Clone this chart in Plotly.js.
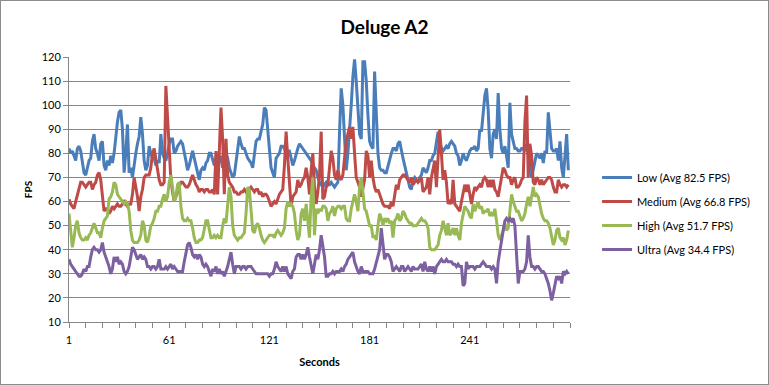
<!DOCTYPE html>
<html>
<head>
<meta charset="utf-8">
<script src="https://cdn.plot.ly/plotly-3.0.1.min.js"></script>
<style>
html,body{margin:0;padding:0;background:#fff;}
#wrap{position:relative;width:769px;height:385px;}
#chart{width:769px;height:385px;}
#frame{position:absolute;left:0;top:0;width:769px;height:385px;box-sizing:border-box;border:1px solid #8c8c8c;pointer-events:none;}
</style>
</head>
<body>
<div id="wrap"><div id="chart"></div><div id="frame"></div></div>
<script>
const seriesNames = ['Low (Avg 82.5 FPS)','Medium (Avg 66.8 FPS)','High (Avg 51.7 FPS)','Ultra (Avg 34.4 FPS)'];
const xTickLabels = ['1','61','121','181','241'];

const low = [
82,80,81,79,77,82,83,81,77,72, 71,74,77,78,85,88,82,80,77,84,
85,75,73,77,75,79,76,80,88,93, 97,98,90,72,80,92,72,74,70,76,
80,84,87,95,88,77,73,75,83,80, 78,78,75,77,76,88,80,78,77,80,
84,86,86,80,81,83,84,85,84,81, 77,73,75,78,81,78,75,72,69,73,
74,73,76,77,80,80,77,75,78,80, 76,79,74,77,80,78,74,72,70,71,
77,82,87,84,82,82,80,78,77,76, 74,79,85,86,86,89,92,99,98,90,
80,74,72,70,78,79,80,83,83,82, 80,81,81,78,75,77,80,82,84,83,
82,81,80,79,78,77,75,74,73,70, 68,67,66,67,68,67,67,68,67,66,
67,68,89,107,100,86,73,80,89,100, 112,119,110,96,88,86,118,118,110,96,
85,83,82,114,100,80,74,73,73,72, 72,75,77,80,82,82,81,84,85,81,
78,75,72,70,66,65,69,70,69,68, 70,71,74,73,72,74,77,77,79,80,
85,89,85,82,81,82,83,82,84,85, 84,83,80,79,75,77,80,78,77,79,
81,82,82,83,81,82,90,89,98,104, 107,98,82,78,88,90,86,105,90,82,
80,83,79,74,101,88,85,82,82,81, 81,82,82,81,84,80,75,70,73,77,
80,79,78,80,76,81,80,97,90,82, 81,81,82,77,85,74,70,80,88,73
];

const medium = [
61,59,58,57,60,63,66,68,68,67, 66,67,68,68,65,67,68,71,72,69,
61,56,57,57,55,56,58,57,58,59, 58,58,59,60,59,58,59,59,63,70,
66,62,56,62,65,70,71,71,71,74, 80,82,78,74,69,67,67,68,108,95,
80,69,64,60,62,64,66,68,68,67, 66,66,67,69,71,69,67,66,64,65,
65,64,65,65,64,64,65,63,81,63, 80,99,86,63,86,71,68,67,66,64,
64,63,63,64,64,65,64,63,65,66, 65,64,65,65,63,64,62,63,63,62,
60,58,59,60,59,61,63,64,65,75, 89,78,66,58,62,63,64,69,66,67,
69,70,74,70,63,73,80,66,59,64, 71,89,61,62,66,67,74,81,78,71,
69,73,70,69,71,78,85,88,91,86, 91,80,70,68,66,62,66,69,81,79,
70,77,70,66,64,65,63,61,59,58, 58,58,57,60,58,63,67,65,69,70,
71,71,70,69,68,70,67,68,69,68, 69,70,64,65,66,70,63,70,73,77,
66,80,90,80,69,73,68,59,60,59, 69,59,58,57,56,60,63,67,64,67,
63,59,63,66,65,66,67,66,69,70, 69,66,69,66,69,65,64,62,67,70,
74,73,71,70,70,67,69,70,66,66, 67,69,70,93,104,70,84,79,68,67,
70,69,67,69,67,68,69,70,70,69, 66,64,64,69,67,66,67,67,66,67
];

const high = [
55,46,41,45,50,52,47,45,44,44, 45,44,46,47,49,51,49,47,47,45,
49,52,53,54,61,62,64,68,67,63, 62,61,60,59,60,59,56,48,44,43,
43,43,44,46,52,50,44,43,46,50, 51,53,56,56,58,58,61,63,60,62,
68,71,66,60,62,67,68,58,53,52, 52,53,52,52,49,45,43,43,44,44,
45,48,52,52,48,45,45,46,45,46, 45,45,50,53,51,58,66,62,50,46,
45,44,45,45,46,47,55,66,65,57, 48,47,50,51,49,46,44,43,44,45,
46,46,46,45,47,48,47,46,47,49, 57,60,58,59,58,55,48,44,46,55,
57,52,59,53,45,62,70,46,57,55, 57,56,58,58,57,52,55,56,58,54,
57,58,58,57,58,58,53,52,52,57, 60,63,60,56,66,70,64,57,56,53,
50,50,45,46,44,50,55,53,50,53, 52,53,51,52,45,52,53,55,52,53,
56,55,53,52,51,51,50,50,50,51, 52,53,52,52,51,49,41,40,40,40,
41,42,46,48,52,49,46,51,46,47, 49,46,49,46,44,51,55,58,57,56,
54,53,59,56,58,60,57,58,55,56, 56,57,54,55,54,57,52,46,44,46,
48,51,48,49,58,63,60,58,56,56, 54,52,53,55,59,62,58,63,66,62,
63,62,58,55,53,52,52,51,49,46, 42,44,48,49,45,44,45,42,44,48
];

const ultra = [
36,34,33,32,31,30,29,29,30,32, 31,33,33,37,40,41,40,40,39,40,
43,39,37,35,33,30,32,37,35,37, 34,35,34,31,30,31,33,37,41,40,
38,36,37,38,36,37,36,33,33,32, 33,33,32,33,36,32,32,32,33,32,
33,34,32,33,32,31,31,31,31,35, 39,42,43,41,38,37,38,36,38,37,
34,33,34,33,31,29,32,31,33,30, 32,30,31,29,31,33,36,39,34,30,
33,33,33,32,33,33,32,33,33,33, 32,31,30,30,30,30,30,30,30,30,
29,30,30,32,35,33,32,31,33,31, 33,30,29,28,31,32,37,38,38,36,
38,36,38,41,37,33,30,34,38,36, 40,46,42,37,29,29,30,30,31,30,
31,31,31,32,31,33,34,36,37,38, 39,35,33,31,30,33,31,31,31,31,
30,30,30,32,35,38,40,49,41,36, 38,38,37,35,31,32,33,32,31,33,
33,31,32,33,32,31,33,32,32,32, 33,34,31,35,32,31,33,31,33,30,
33,34,35,36,35,35,36,35,35,35, 34,34,33,34,33,33,25,26,35,32,
33,33,33,32,33,33,33,34,35,34, 33,33,33,32,33,32,26,35,40,43,
48,52,53,52,53,52,53,50,38,26, 31,31,31,32,35,46,37,33,33,32,
33,33,32,31,31,30,28,26,23,19, 22,26,29,28,29,26,31,30,31,30
];

const seconds = low.map((_, i) => i + 1);
const colors = ['#4a7ebb', '#be4b48', '#98b954', '#7d60a0'];
const allSeries = [low, medium, high, ultra];

const traces = allSeries.map((vals, k) => ({
  type: 'scatter',
  mode: 'lines',
  x: seconds,
  y: vals,
  name: seriesNames[k],
  legendgroup: 'g' + k,
  line: {color: colors[k], width: 3, shape: 'linear'},
  hoverinfo: 'skip'
}));

const tickVals = [];
const tickText = [];
for (let v = 1; v <= 301; v += 10) {
  tickVals.push(v);
  tickText.push(xTickLabels.indexOf(String(v)) >= 0 ? String(v) : '');
}

const fontFam = 'Lato, "Open Sans", "DejaVu Sans", sans-serif';
const layout = {
  width: 769, height: 385,
  margin: {l: 69, r: 199, t: 57, b: 63, pad: 0},
  paper_bgcolor: '#ffffff',
  plot_bgcolor: '#ffffff',
  font: {family: fontFam, size: 11, color: '#000'},
  title: {text: '<b>Deluge A2</b>', x: 0.5, xref: 'container', y: 0.93, yref: 'container', yanchor: 'middle',
          font: {family: fontFam, size: 19, color: '#000'}},
  showlegend: true,
  legend: {x: 1.054, xanchor: 'left', y: 0.6, yanchor: 'top', traceorder: 'grouped', tracegroupgap: 5,
           font: {family: fontFam, size: 11, color: '#000'}, bgcolor: 'rgba(0,0,0,0)'},
  xaxis: {
    range: [1, 301], showgrid: false, zeroline: false,
    showline: true, linecolor: '#868686', linewidth: 1,
    tickmode: 'array', tickvals: tickVals, ticktext: tickText,
    ticks: 'outside', ticklen: 5, tickcolor: '#868686', tickwidth: 1,
    ticklabelstandoff: 3,
    tickfont: {family: fontFam, size: 11, color: '#000'},
    title: {text: '<b>Seconds</b>', font: {family: fontFam, size: 11, color: '#000'}, standoff: 13}
  },
  yaxis: {
    range: [10, 120], dtick: 10, tick0: 10, showgrid: true, gridcolor: '#868686', gridwidth: 1,
    zeroline: false, showline: true, linecolor: '#868686', linewidth: 1,
    ticks: 'outside', ticklen: 5, tickcolor: '#868686', tickwidth: 1,
    tickfont: {family: fontFam, size: 11, color: '#000'},
    title: {text: '<b>FPS</b>', font: {family: fontFam, size: 10, color: '#000'}, standoff: 7}
  }
};

Plotly.newPlot('chart', traces, layout, {displayModeBar: false, staticPlot: true});
</script>
</body>
</html>
